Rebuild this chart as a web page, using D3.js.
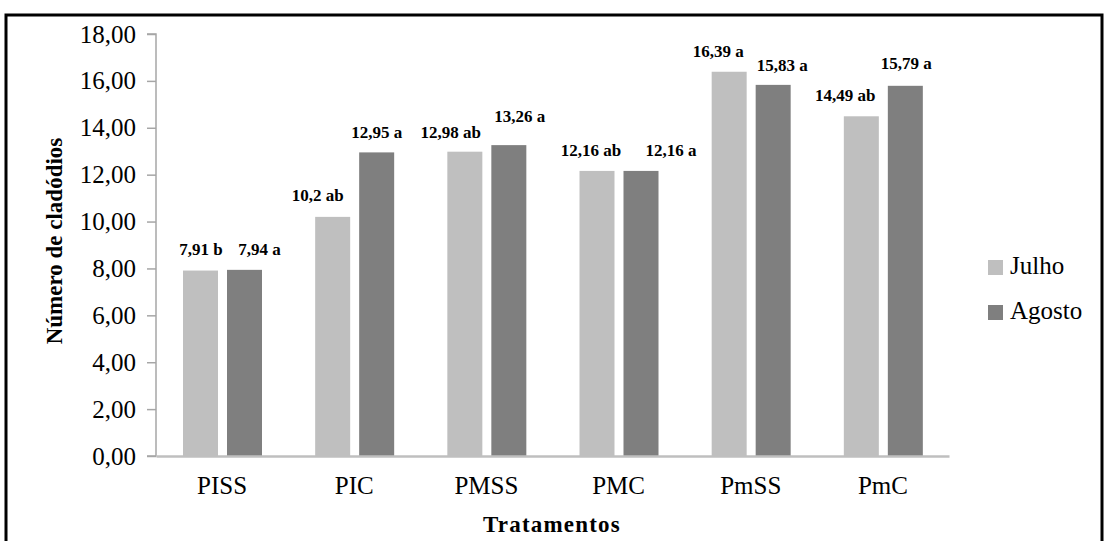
<!DOCTYPE html>
<html>
<head>
<meta charset="utf-8">
<script src="https://cdn.jsdelivr.net/npm/d3@7"></script>
<style>
  html, body { margin: 0; padding: 0; background: #fff; }
  svg { display: block; }
  text { font-family: "Liberation Serif", "Times New Roman", serif; fill: #000; }
</style>
</head>
<body>
<script>
const categories = ["PISS", "PIC", "PMSS", "PMC", "PmSS", "PmC"];
const seriesNames = ["Julho", "Agosto"];
const julho = [7.91, 10.2, 12.98, 12.16, 16.39, 14.49];
const agosto = [7.94, 12.95, 13.26, 12.16, 15.83, 15.79];
const julhoLetters = ["b", "ab", "ab", "ab", "a", "ab"];
const agostoLetters = ["a", "a", "a", "a", "a", "a"];
const yTicks = [0, 2, 4, 6, 8, 10, 12, 14, 16, 18];
const colors = ["#bfbfbf", "#7f7f7f"];

// label nudges (layout, as placed in the original chart)
const julhoLabelDx = [0.5, -15, -14, -6, -11, -16];
const agostoLabelDx = [15, 0, 11, 30, 9, 1];
const julhoLabelGap = [15.5, 16, 14, 14.5, 14.7, 15.3];
const agostoLabelGap = [15, 14, 23, 14.5, 14.3, 16.6];

const W = 1104, H = 541;
const svg = d3.select("body").append("svg").attr("width", W).attr("height", H);

// outer frame
svg.append("path")
  .attr("d", `M6,${H+5} L6,15 L1102,15 L1102,${H+5}`)
  .attr("fill", "none").attr("stroke", "#000").attr("stroke-width", 3);

const x0 = d3.scaleBand().domain(categories).range([156, 949]);
const x1 = d3.scaleBand().domain(seriesNames).range([27, 106]).paddingInner(0.2045);
const y = d3.scaleLinear().domain([0, 18]).range([456, 34]);

const fmt = v => String(v).replace(".", ",");

// y axis
const yAxis = svg.append("g").attr("transform", "translate(156,0)")
  .call(d3.axisLeft(y).tickValues(yTicks).tickSize(9).tickPadding(11)
    .tickFormat(d => d3.format(".2f")(d).replace(".", ",")));
yAxis.select(".domain").attr("stroke", "#a6a6a6").attr("stroke-width", 1.5).attr("d", "M-9,34H0V456H-9");
yAxis.selectAll(".tick line").attr("stroke", "#a6a6a6").attr("stroke-width", 1.5);
yAxis.selectAll(".tick text").attr("font-size", 25).attr("font-family", "Liberation Serif").attr("fill", "#000");

// data rows
const rows = categories.map((c, i) => ({
  cat: c,
  vals: [
    { s: "Julho", v: julho[i], lab: fmt(julho[i]) + " " + julhoLetters[i], dx: julhoLabelDx[i], gap: julhoLabelGap[i] },
    { s: "Agosto", v: agosto[i], lab: fmt(agosto[i]) + " " + agostoLetters[i], dx: agostoLabelDx[i], gap: agostoLabelGap[i] }
  ]
}));

const groups = svg.append("g").selectAll("g").data(rows).join("g")
  .attr("transform", d => `translate(${x0(d.cat)},0)`);

groups.selectAll("rect").data(d => d.vals).join("rect")
  .attr("x", d => x1(d.s))
  .attr("y", d => y(d.v))
  .attr("width", x1.bandwidth())
  .attr("height", d => y(0) - y(d.v))
  .attr("fill", (d, i) => colors[i]);

groups.selectAll("text").data(d => d.vals).join("text")
  .attr("x", d => x1(d.s) + x1.bandwidth() / 2 + d.dx)
  .attr("y", d => y(d.v) - d.gap)
  .attr("text-anchor", "middle")
  .attr("font-size", 17)
  .attr("font-weight", "bold")
  .text(d => d.lab);

// x axis
const xAxis = svg.append("g").attr("transform", "translate(0,456)")
  .call(d3.axisBottom(x0).tickSize(0).tickPadding(20));
xAxis.select(".domain").attr("stroke", "#bfbfbf").attr("stroke-width", 2.5);
xAxis.selectAll(".tick text").attr("font-size", 25).attr("font-family", "Liberation Serif").attr("fill", "#000");

// axis titles
svg.append("text")
  .attr("x", 552).attr("y", 532)
  .attr("text-anchor", "middle")
  .attr("font-size", 23).attr("font-weight", "bold")
  .attr("letter-spacing", 1.2)
  .text("Tratamentos");

svg.append("text")
  .attr("transform", "translate(62,241) rotate(-90)")
  .attr("text-anchor", "middle")
  .attr("font-size", 23).attr("font-weight", "bold")
  .text("Número de cladódios");

// legend
const legend = svg.append("g").selectAll("g").data(seriesNames).join("g")
  .attr("transform", (d, i) => `translate(988,${260 + i * 45})`);
legend.append("rect").attr("width", 15).attr("height", 15)
  .attr("fill", (d, i) => colors[i]);
legend.append("text").attr("x", 22).attr("y", 14)
  .attr("font-size", 25)
  .text(d => d);
</script>
</body>
</html>
